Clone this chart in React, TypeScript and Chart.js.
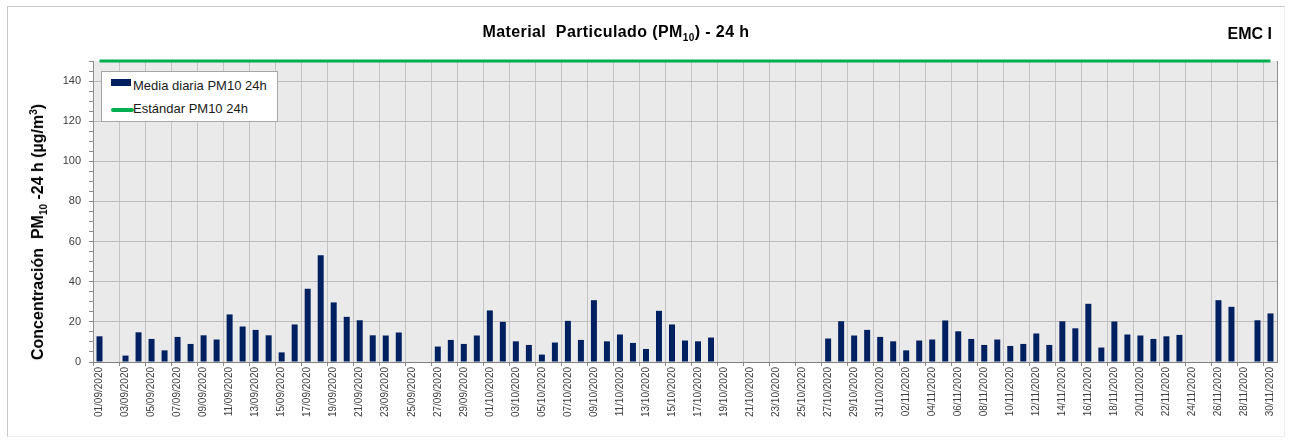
import React, { useEffect, useRef } from "react";
import { Chart, registerables } from "chart.js";

Chart.register(...registerables);

const dayLabels: string[] = [
  "01/09/2020", "02/09/2020", "03/09/2020", "04/09/2020", "05/09/2020", "06/09/2020", "07/09/2020", "08/09/2020", "09/09/2020", "10/09/2020",
  "11/09/2020", "12/09/2020", "13/09/2020", "14/09/2020", "15/09/2020", "16/09/2020", "17/09/2020", "18/09/2020", "19/09/2020", "20/09/2020",
  "21/09/2020", "22/09/2020", "23/09/2020", "24/09/2020", "25/09/2020", "26/09/2020", "27/09/2020", "28/09/2020", "29/09/2020", "30/09/2020",
  "01/10/2020", "02/10/2020", "03/10/2020", "04/10/2020", "05/10/2020", "06/10/2020", "07/10/2020", "08/10/2020", "09/10/2020", "10/10/2020",
  "11/10/2020", "12/10/2020", "13/10/2020", "14/10/2020", "15/10/2020", "16/10/2020", "17/10/2020", "18/10/2020", "19/10/2020", "20/10/2020",
  "21/10/2020", "22/10/2020", "23/10/2020", "24/10/2020", "25/10/2020", "26/10/2020", "27/10/2020", "28/10/2020", "29/10/2020", "30/10/2020",
  "31/10/2020",
  "01/11/2020", "02/11/2020", "03/11/2020", "04/11/2020", "05/11/2020", "06/11/2020", "07/11/2020", "08/11/2020", "09/11/2020", "10/11/2020",
  "11/11/2020", "12/11/2020", "13/11/2020", "14/11/2020", "15/11/2020", "16/11/2020", "17/11/2020", "18/11/2020", "19/11/2020", "20/11/2020",
  "21/11/2020", "22/11/2020", "23/11/2020", "24/11/2020", "25/11/2020", "26/11/2020", "27/11/2020", "28/11/2020", "29/11/2020", "30/11/2020",
];

const septValues: (number | null)[] = [
  12.8, null, 3.2, 14.8, 11.5, 5.8, 12.5, 9.0, 13.3, 11.2,
  23.7, 17.7, 16.0, 13.3, 4.8, 18.7, 36.5, 53.2, 29.7, 22.5,
  20.8, 13.3, 13.2, 14.7, null, null, 7.7, 11.0, 9.0, 13.2,
];
const octValues: (number | null)[] = [
  25.7, 20.0, 10.3, 8.5, 3.7, 9.7, 20.5, 11.0, 30.8, 10.3,
  13.7, 9.5, 6.5, 25.5, 18.7, 10.7, 10.3, 12.2, null, null,
  null, null, null, null, null, null, 11.7, 20.3, 13.2, 16.0,
  12.5,
];
const novValues: (number | null)[] = [
  10.3, 5.8, 10.7, 11.2, 20.7, 15.3, 11.5, 8.5, 11.2, 8.0,
  9.0, 14.2, 8.5, 20.3, 16.8, 29.0, 7.2, 20.2, 13.7, 13.2,
  11.5, 12.8, 13.5, null, null, 30.8, 27.5, null, 20.8, 24.2,
];
const standardValue = 150;

const seriesNames = ["Media diaria PM10 24h", "Estándar PM10 24h"];
const yTickValues = [0, 20, 40, 60, 80, 100, 120, 140];

const FONT = "'Liberation Sans', Arial, Helvetica, sans-serif";

export default function App() {
  const canvasRef = useRef<HTMLCanvasElement | null>(null);

  useEffect(() => {
    if (!canvasRef.current) return;
    const dailyValues = [...septValues, ...octValues, ...novValues];
    const standard = dayLabels.map(() => standardValue);

    const areaPlugin = {
      id: "areaPlugin",
      beforeDraw(chart: any) {
        const { ctx, chartArea } = chart;
        ctx.save();
        ctx.fillStyle = "#EAEAEA";
        ctx.fillRect(chartArea.left, chartArea.top, chartArea.right - chartArea.left, chartArea.bottom - chartArea.top);
        ctx.restore();
      },
      afterDraw(chart: any) {
        const { ctx, chartArea } = chart;
        ctx.save();
        ctx.strokeStyle = "#8C8C8C";
        ctx.lineWidth = 1;
        ctx.beginPath();
        ctx.moveTo(Math.round(chartArea.right) + 0.5, chartArea.top);
        ctx.lineTo(Math.round(chartArea.right) + 0.5, chartArea.bottom);
        ctx.stroke();
        ctx.restore();
      },
    };

    const chart = new Chart(canvasRef.current, {
      type: "bar",
      data: {
        labels: dayLabels,
        datasets: [
          {
            type: "line",
            label: seriesNames[1],
            data: standard,
            borderColor: "#00B050",
            borderWidth: 3,
            pointRadius: 0,
            fill: false,
            clip: false,
            order: 0,
          } as any,
          {
            type: "bar",
            label: seriesNames[0],
            data: dailyValues,
            backgroundColor: "#002060",
            borderWidth: 0,
            categoryPercentage: 1,
            barPercentage: 0.46,
            order: 1,
          } as any,
        ],
      },
      options: {
        responsive: false,
        animation: false,
        devicePixelRatio: 1,
        layout: { padding: { top: 61, right: 13, left: 0, bottom: 0 } },
        plugins: {
          legend: { display: false },
          title: { display: false },
          tooltip: { enabled: false },
        },
        scales: {
          x: {
            type: "category",
            offset: true,
            afterFit: (scale: any) => {
              scale.height = 79;
            },
            grid: {
              offset: true,
              drawOnChartArea: true,
              color: (ctx: any) => (ctx.index % 2 === 0 ? "#C4C4C4" : "rgba(0,0,0,0)"),
              tickColor: (ctx: any) => (ctx.index % 2 === 0 ? "#8C8C8C" : "rgba(0,0,0,0)"),
              tickLength: 4,
              lineWidth: 1,
            },
            border: { display: true, color: "#7F7F7F" },
            ticks: {
              autoSkip: false,
              maxRotation: 90,
              minRotation: 90,
              padding: 1,
              color: "#404040",
              font: { family: FONT, size: 10 },
              callback: (_v: any, i: number) => (i % 2 === 0 ? dayLabels[i] : ""),
            },
          },
          y: {
            min: 0,
            max: 150,
            afterFit: (scale: any) => {
              scale.width = 93;
            },
            grid: {
              color: (ctx: any) =>
                ctx.tick && yTickValues.includes(ctx.tick.value) && ctx.tick.value > 0 ? "#BDBDBD" : "rgba(0,0,0,0)",
              tickColor: "#8C8C8C",
              tickLength: 4,
            },
            border: { display: true, color: "#8C8C8C" },
            ticks: {
              stepSize: 5,
              autoSkip: false,
              padding: 8,
              color: "#404040",
              font: { family: FONT, size: 11 },
              callback: (v: any) => (yTickValues.includes(Number(v)) ? String(v) : ""),
            },
          },
        },
      },
      plugins: [areaPlugin],
    });

    return () => chart.destroy();
  }, []);

  return (
    <div style={{ position: "absolute", left: 0, top: 0, width: 1290, height: 441, background: "#fff", fontFamily: FONT }}>
      <div
        style={{
          position: "absolute",
          left: 7,
          top: 6,
          width: 1276,
          height: 429,
          borderLeft: "1px solid #C8C8C8",
          borderTop: "1px solid #C8C8C8",
          borderRight: "1px solid #EEEEEE",
          borderBottom: "1px solid #EEEEEE",
        }}
      />
      <canvas ref={canvasRef} width={1290} height={441} style={{ position: "absolute", left: 0, top: 0, width: 1290, height: 441 }} />
      <div
        style={{
          position: "absolute",
          left: 616,
          top: 23.5,
          transform: "translateX(-50%)",
          fontSize: 16,
          fontWeight: "bold",
          lineHeight: "16px",
          letterSpacing: "0.4px",
          whiteSpace: "nowrap",
          color: "#000",
        }}
      >
        Material&nbsp; Particulado (PM<sub style={{ fontSize: 10, lineHeight: 0 }}>10</sub>) - 24 h
      </div>
      <div
        style={{
          position: "absolute",
          right: 18,
          top: 25.5,
          fontSize: 16,
          fontWeight: "bold",
          lineHeight: "16px",
          whiteSpace: "nowrap",
          color: "#000",
        }}
      >
        EMC I
      </div>
      <div
        style={{
          position: "absolute",
          left: 38,
          top: 232,
          transform: "translate(-50%, -50%) rotate(-90deg)",
          fontSize: 16,
          fontWeight: "bold",
          lineHeight: "16px",
          whiteSpace: "nowrap",
          color: "#000",
        }}
      >
        Concentración&nbsp; PM<sub style={{ fontSize: 10, lineHeight: 0 }}>10</sub> -24 h (µg/m<sup style={{ fontSize: 10, lineHeight: 0 }}>3</sup>)
      </div>
      <div
        style={{
          position: "absolute",
          left: 101,
          top: 71,
          width: 175,
          height: 49,
          background: "#fff",
          border: "1px solid #A6A6A6",
        }}
      >
        <div style={{ position: "absolute", left: 9, top: 7, width: 20, height: 7, background: "#002060" }} />
        <div style={{ position: "absolute", left: 31, top: 7, fontSize: 13, lineHeight: "13px", color: "#1a1a1a", whiteSpace: "nowrap" }}>
          {seriesNames[0]}
        </div>
        <div style={{ position: "absolute", left: 9, top: 35.5, width: 23, height: 4, borderRadius: 2, background: "#00B050" }} />
        <div style={{ position: "absolute", left: 31, top: 29.5, fontSize: 13, lineHeight: "13px", color: "#1a1a1a", whiteSpace: "nowrap" }}>
          {seriesNames[1]}
        </div>
      </div>
    </div>
  );
}
